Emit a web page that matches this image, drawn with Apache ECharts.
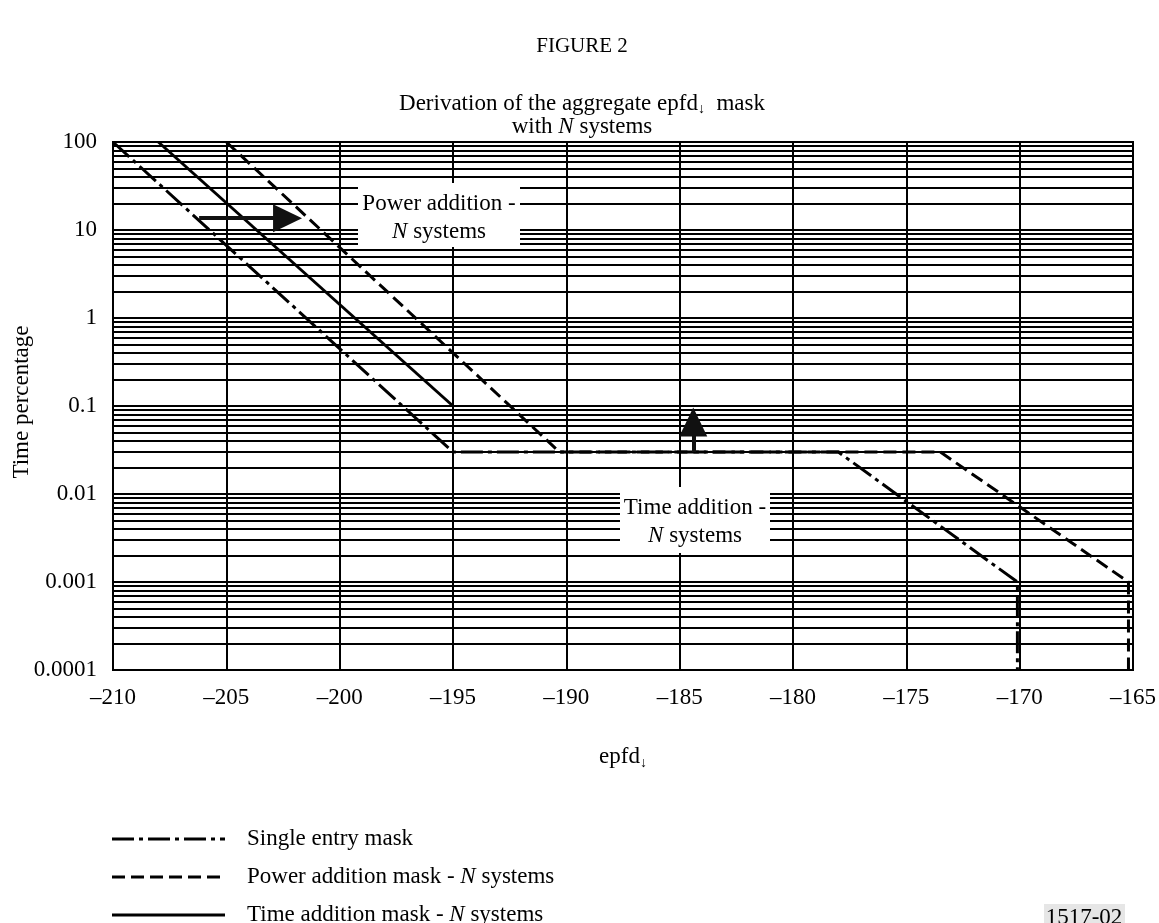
<!DOCTYPE html>
<html>
<head>
<meta charset="utf-8">
<script src="https://cdn.jsdelivr.net/npm/echarts@6/dist/echarts.min.js"></script>
<style>
html,body{margin:0;padding:0;background:#fff;}
#chart{width:1159px;height:923px;}
</style>
</head>
<body>
<div id="chart"></div>
<script>
// ---- data ----
const xMin = -210, xMax = -165, xStep = 5;
const yTickLabels = ['0.0001', '0.001', '0.01', '0.1', '1', '10', '100'];
const yDecades = [0.0001, 0.001, 0.01, 0.1, 1, 10];
const yMinorMultipliers = [2, 3, 4, 5, 6, 7, 8, 9];

const singleEntryX = [-210, -195, -178, -170.1, -170.1];
const singleEntryY = [100, 0.03, 0.03, 0.001, 0.0001];
const powerAddX = [-205, -190.3, -173.5, -165.2, -165.2];
const powerAddY = [100, 0.03, 0.03, 0.001, 0.0001];
const timeAddX = [-208, -195];
const timeAddY = [100, 0.1];

// arrows: [x1, y1, x2, y2] (x2,y2 = arrow head centre)
const arrowPower = [-206.2, 13.6, -202.3, 13.6];
const arrowTime = [-184.4, 0.03, -184.4, 0.066];

const legendItems = ['Single entry mask', 'Power addition mask - {i|N} systems', 'Time addition mask - {i|N} systems'];

// ---- helpers ----
const FONT = "'Liberation Serif', 'Times New Roman', serif";
function pairs(xs, ys) { return xs.map((x, i) => [x, ys[i]]); }
const minorValues = [];
yDecades.forEach(d => yMinorMultipliers.forEach(m => minorValues.push(+(d * m).toPrecision(6))));

const dashDot = [22, 5, 4, 5];
const dashed = [13, 6];

const chart = echarts.init(document.getElementById('chart'), null, { renderer: 'canvas' });

const italicRich = (size) => ({
  i: { fontFamily: FONT, fontSize: size, fontStyle: 'italic', fill: '#000', color: '#000' }
});

function textEl(x, y, text, size, align, rich, rotation) {
  return {
    type: 'text', x: x, y: y, z: 100, rotation: rotation || 0,
    style: {
      text: text, fontFamily: FONT, fontSize: size, fill: '#000',
      align: align || 'center', verticalAlign: 'middle',
      rich: rich || {}
    }
  };
}

const legendY = [839, 877, 915];
const legendDash = [dashDot, dashed, null];

const graphics = [
  textEl(582, 46, 'FIGURE 2', 21),
  textEl(582, 104, 'Derivation of the aggregate epfd{s|↓}  mask', 23, 'center', {
    s: { fontFamily: FONT, fontSize: 14, fill: '#000', padding: [10, 0, 0, 0] }
  }),
  textEl(582, 127, 'with {i|N} systems', 23, 'center', italicRich(23)),
  // y-axis title
  textEl(22, 402, 'Time percentage', 23, 'center', null, Math.PI / 2),
  // annotation boxes
  { type: 'rect', z: 99, shape: { x: 358, y: 183, width: 162, height: 64 }, style: { fill: '#fff' } },
  textEl(439, 204, 'Power addition -', 23),
  textEl(439, 232, '{i|N} systems', 23, 'center', italicRich(23)),
  { type: 'rect', z: 99, shape: { x: 620, y: 487, width: 150, height: 66 }, style: { fill: '#fff' } },
  textEl(695, 508, 'Time addition -', 23),
  textEl(695, 536, '{i|N} systems', 23, 'center', italicRich(23)),
  // id label
  { type: 'rect', z: 99, shape: { x: 1044, y: 904, width: 81, height: 24 }, style: { fill: '#e6e6e6' } },
  textEl(1084, 918, '1517-02', 23)
];
legendItems.forEach((t, i) => {
  graphics.push({
    type: 'line', z: 100,
    shape: { x1: 112, y1: legendY[i], x2: 225, y2: legendY[i] },
    style: { stroke: '#000', lineWidth: 3, lineDash: legendDash[i] || null }
  });
  graphics.push(textEl(247, legendY[i], t, 23, 'left', italicRich(23)));
});

const option = {
  animation: false,
  backgroundColor: '#fff',
  grid: {
    left: 113, right: 26, top: 142, bottom: 253, show: true, borderColor: '#000', borderWidth: 2,
    containLabel: false, outerBoundsMode: 'none'
  },
  xAxis: {
    type: 'value', min: xMin, max: xMax, interval: xStep,
    axisLine: { show: true, lineStyle: { color: '#000', width: 2 } },
    axisTick: { show: false },
    splitLine: { show: true, lineStyle: { color: '#000', width: 2 } },
    axisLabel: {
      fontFamily: FONT, fontSize: 23, color: '#000', margin: 16,
      formatter: v => String(v).replace('-', '\u2013')
    },
    name: 'epfd{s|↓}', nameLocation: 'middle', nameGap: 74,
    nameTextStyle: {
      fontFamily: FONT, fontSize: 23, color: '#000',
      rich: { s: { fontFamily: FONT, fontSize: 14, color: '#000', padding: [12, 0, 0, 0] } }
    }
  },
  yAxis: {
    type: 'log', logBase: 10, min: 0.0001, max: 100, splitNumber: 6,
    axisLine: { show: true, lineStyle: { color: '#000', width: 2 } },
    axisTick: { show: false },
    splitLine: { show: true, lineStyle: { color: '#000', width: 2 } },
    axisLabel: {
      fontFamily: FONT, fontSize: 23, color: '#000', margin: 16,
      formatter: v => {
        const k = Math.round(Math.log10(v)) + 4;
        return yTickLabels[k] !== undefined ? yTickLabels[k] : '';
      }
    }
  },
  series: [
    {
      name: 'minor grid', type: 'lines', coordinateSystem: 'cartesian2d', z: 1, silent: true,
      polyline: false, symbol: 'none',
      lineStyle: { color: '#000', width: 2, type: 'solid', opacity: 1 },
      data: minorValues.map(v => ({ coords: [[xMin, v], [xMax, v]] }))
    },
    {
      name: 'Single entry mask', type: 'line', z: 3, symbol: 'none',
      data: pairs(singleEntryX, singleEntryY),
      lineStyle: { color: '#000', width: 3, type: dashDot }
    },
    {
      name: 'Power addition mask - N systems', type: 'line', z: 3, symbol: 'none',
      data: pairs(powerAddX, powerAddY),
      lineStyle: { color: '#000', width: 3, type: dashed }
    },
    {
      name: 'Time addition mask - N systems', type: 'line', z: 3, symbol: 'none',
      data: pairs(timeAddX, timeAddY),
      lineStyle: { color: '#000', width: 3, type: 'solid' }
    },
    {
      name: 'arrows', type: 'line', data: [], z: 4, silent: true,
      markLine: {
        silent: true, z: 4, animation: false,
        symbol: ['none', 'triangle'], symbolSize: [28, 29],
        label: { show: false },
        lineStyle: { color: '#111', width: 4, type: 'solid' },
        itemStyle: { color: '#000' },
        emphasis: { disabled: true },
        data: [
          [{ coord: [arrowPower[0], arrowPower[1]] }, { coord: [arrowPower[2], arrowPower[3]] }],
          [{ coord: [arrowTime[0], arrowTime[1]] }, { coord: [arrowTime[2], arrowTime[3]] }]
        ]
      }
    }
  ],
  graphic: graphics
};
chart.setOption(option);
</script>
</body>
</html>
